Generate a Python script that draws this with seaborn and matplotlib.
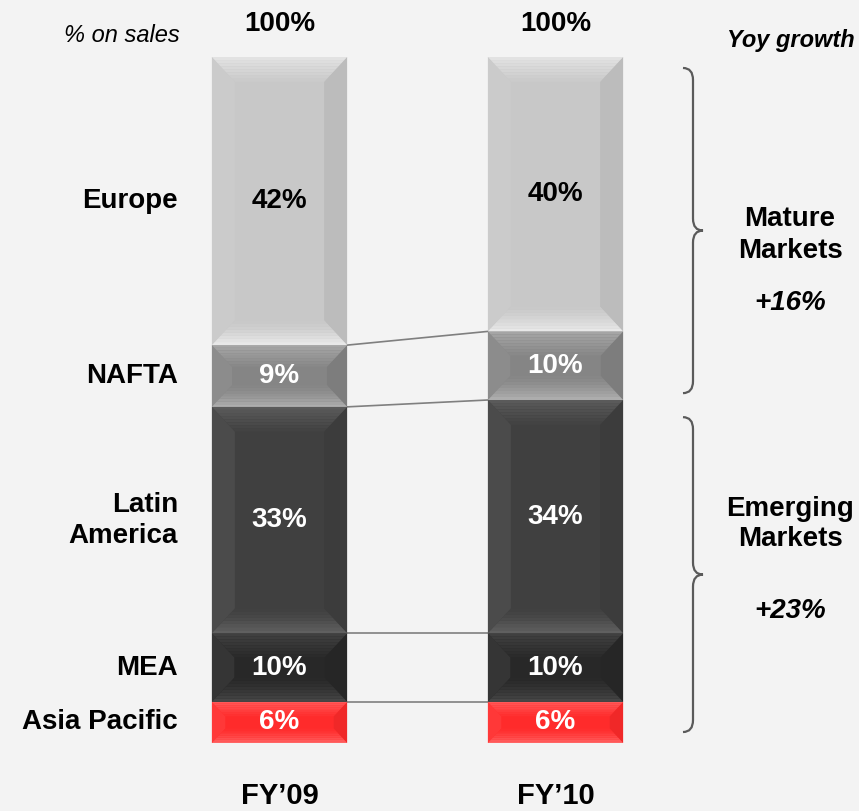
import numpy as np
import pandas as pd
import seaborn as sns
import matplotlib.pyplot as plt
import matplotlib.colors as mcolors
from matplotlib.patches import Polygon, PathPatch
from matplotlib.path import Path

# Data (segments listed bottom to top)
periods = ["FY\u201909", "FY\u201910"]
regions = ["Asia Pacific", "MEA", "Latin\nAmerica", "NAFTA", "Europe"]
fy09 = [6, 10, 33, 9, 42]
fy10 = [6, 10, 34, 10, 40]
totals = ["100%", "100%"]
groups = ["Mature\nMarkets", "Emerging\nMarkets"]
growth = ["+16%", "+23%"]

colors = ["#ff2b2b", "#282828", "#404040", "#858585", "#c8c8c8"]
label_colors = ["white", "white", "white", "white", "black"]

sns.set_style("white")
plt.rcParams["font.family"] = ["Liberation Sans", "DejaVu Sans"]
plt.rcParams["text.color"] = "black"

W, H = 859, 811
fig = plt.figure(figsize=(W / 100, H / 100), dpi=100)
fig.patch.set_facecolor("#f3f3f3")
ax = fig.add_axes([0, 0, 1, 1])
ax.set_facecolor("none")

vals = np.array([fy09, fy10], dtype=float)   # shape (period, segment)
cum = np.cumsum(vals, axis=1)
bottoms = cum - vals
bar_w = 0.49

# stacked bars: draw cumulative tops from the top segment down
for i in range(len(regions) - 1, -1, -1):
    sns.barplot(x=periods, y=cum[:, i], color=colors[i], saturation=1,
                width=bar_w, linewidth=0, ax=ax)

# pixel-ish mapping: bar centres at 279.5 / 555.5 px, 100% at 57 px, 0% at 743 px
pxu = 276.0
pyu = 6.86
ax.set_xlim(-279.5 / pxu, (W - 279.5) / pxu)
ax.set_ylim(-(H - 743) / pyu, 100 + 57 / pyu)
ax.axis("off")


def mix(c, other, t):
    a = np.array(mcolors.to_rgb(c))
    b = np.array(mcolors.to_rgb(other))
    return tuple(a + (b - a) * t)


# bevel look on each segment
for p in range(2):
    x0, x1 = p - bar_w / 2, p + bar_w / 2
    for i in range(len(regions)):
        y0, y1 = bottoms[p, i], cum[p, i]
        h = y1 - y0
        dy = min(3.6, h * 0.35)
        dx = 23 / pxu * dy / 3.6
        face = colors[i]
        lum = np.mean(mcolors.to_rgb(face))
        light = 0.12 + 0.75 * lum ** 2
        side = mix(face, "black", 0.06)
        ax.add_patch(Polygon([(x0, y0), (x0 + dx, y0 + dy), (x0 + dx, y1 - dy), (x0, y1)],
                             color=mix(face, "white", 0.06), lw=0, zorder=3))
        ax.add_patch(Polygon([(x1, y0), (x1 - dx, y0 + dy), (x1 - dx, y1 - dy), (x1, y1)],
                             color=side, lw=0, zorder=3))
        n = 8
        for k in range(n):
            t0, t1 = k / n, (k + 1) / n
            # top bevel
            c_top = mix(face, "white", light * 0.8 * (1 - t0))
            ax.add_patch(Polygon([(x0 + dx * t0, y1 - dy * t0), (x1 - dx * t0, y1 - dy * t0),
                                  (x1 - dx * t1, y1 - dy * t1), (x0 + dx * t1, y1 - dy * t1)],
                                 color=c_top, lw=0, zorder=3))
            # bottom bevel
            c_bot = mix(face, "white", light * (1 - t0) ** 1.5)
            ax.add_patch(Polygon([(x0 + dx * t0, y0 + dy * t0), (x1 - dx * t0, y0 + dy * t0),
                                  (x1 - dx * t1, y0 + dy * t1), (x0 + dx * t1, y0 + dy * t1)],
                                 color=c_bot, lw=0, zorder=3))

# connector lines between the bars
for i in range(len(regions) - 1):
    ax.plot([0 + bar_w / 2, 1 - bar_w / 2], [cum[0, i], cum[1, i]],
            color="#7f7f7f", lw=1.2, zorder=2)

# value labels inside segments
for p in range(2):
    for i in range(len(regions)):
        ax.text(p, bottoms[p, i] + vals[p, i] / 2, f"{int(vals[p, i])}%",
                ha="center", va="center", fontsize=20, fontweight="bold",
                color=label_colors[i], zorder=5)
    ax.text(p, cum[p, -1] + 4.8, totals[p], ha="center", va="center",
            fontsize=20, fontweight="bold", color="black")
    ax.text(p, -7.7, periods[p], ha="center", va="center",
            fontsize=21, fontweight="bold", color="black")

# region names on the left
for i, name in enumerate(regions):
    ax.text(-bar_w / 2 - 34 / pxu, bottoms[0, i] + vals[0, i] / 2, name,
            ha="right", va="center", fontsize=20, fontweight="bold",
            color="black", linespacing=1.25)


def brace(x, y_top, y_bot, w, r):
    ym = (y_top + y_bot) / 2
    verts = [(x - w, y_top), (x, y_top), (x, y_top - r),
             (x, ym + r), (x, ym), (x + w, ym),
             (x, ym), (x, ym - r),
             (x, y_bot + r), (x, y_bot), (x - w, y_bot)]
    codes = [Path.MOVETO, Path.CURVE3, Path.CURVE3,
             Path.LINETO, Path.CURVE3, Path.CURVE3,
             Path.CURVE3, Path.CURVE3,
             Path.LINETO, Path.CURVE3, Path.CURVE3]
    ax.add_patch(PathPatch(Path(verts, codes), fill=False, edgecolor="#5a5a5a", lw=1.6))


bx = (693 - 279.5) / pxu
split = cum[1, 2]
brace(bx, 100 - 1.6, split + 1.0, 10 / pxu, 12 / pyu)
brace(bx, split - 2.5, 1.6, 10 / pxu, 12 / pyu)

# right-hand annotations
fig.text(122 / W, 1 - 35 / H, "% on sales", ha="center", va="center",
         fontsize=17, style="italic", color="black")
fig.text(855 / W, 1 - 40 / H, "Yoy growth", ha="right", va="center",
         fontsize=17, style="italic", fontweight="bold", color="black")
fig.text(790 / W, 1 - 235 / H, groups[0], ha="center", va="center",
         fontsize=20, fontweight="bold", linespacing=1.25, color="black")
fig.text(790 / W, 1 - 303 / H, growth[0], ha="center", va="center",
         fontsize=20, fontweight="bold", style="italic", color="black")
fig.text(790 / W, 1 - 524 / H, groups[1], ha="center", va="center",
         fontsize=20, fontweight="bold", linespacing=1.25, color="black")
fig.text(790 / W, 1 - 611 / H, growth[1], ha="center", va="center",
         fontsize=20, fontweight="bold", style="italic", color="black")

fig.savefig("out.png", dpi=100, facecolor=fig.get_facecolor())
